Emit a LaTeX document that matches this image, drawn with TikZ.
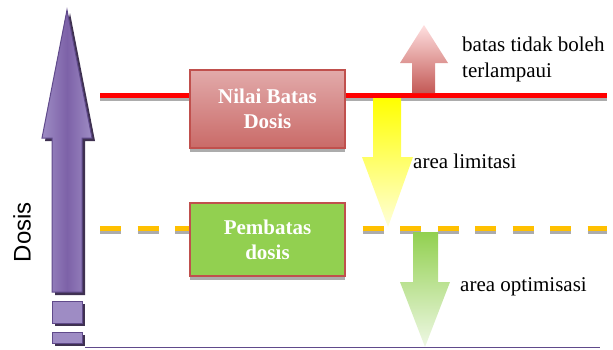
\documentclass[tikz,border=0pt]{standalone}
\usepackage{fontspec}
\setmainfont{Liberation Serif}
\newfontfamily\dosisfont{Liberation Sans}
\definecolor{purM}{RGB}{125,98,168}
\definecolor{purL}{RGB}{158,140,196}
\definecolor{purD}{RGB}{96,74,139}
\definecolor{purS}{RGB}{63,49,81}
\definecolor{redT}{RGB}{226,170,170}
\definecolor{redB}{RGB}{192,80,77}
\definecolor{grnF}{RGB}{146,208,80}
\definecolor{orng}{RGB}{255,192,0}
\tikzset{
  shadowline/.style={gray!65, line width=3pt},
  boxtext/.style={text=white, font=\bfseries\fontsize{21}{25}\selectfont, align=center, inner sep=0pt},
  redbox/.style={draw=redB, line width=1.2pt, top color=redT, bottom color=redB!85, minimum width=155pt, minimum height=78pt},
  greenbox/.style={draw=redB, line width=1.2pt, fill=grnF, minimum width=155pt, minimum height=73pt},
  lbl/.style={font=\fontsize{21}{26}\selectfont, align=left, anchor=west, inner sep=0pt, text=black},
  purblock/.style={draw=purD, line width=1pt, fill=purL},
}
\begin{document}
\begin{tikzpicture}[x=1pt,y=-1pt]
\useasboundingbox (0,0) rectangle (613,349);
% big purple arrow shadow
\fill[purS] (55,295) -- (55,141) -- (45,141) -- (70,13) -- (95,141) -- (85,141) -- (85,295) -- cycle;
\path[draw=purD, line width=1pt, left color=purL, right color=purL, middle color=purM]
  (52,292) -- (52,138) -- (42,138) -- (67,10) -- (92,138) -- (82,138) -- (82,292) -- cycle;
% small blocks
\fill[purS] (55,304) rectangle (85,326);
\draw[purblock] (52,301) rectangle (82,323);
\fill[purS] (55,335) rectangle (85,346);
\draw[purblock] (52,332) rectangle (82,343);
% Dosis label
\node[rotate=90, font=\dosisfont\fontsize{24}{24}\selectfont, inner sep=0pt] (dosis) at (22,232) {Dosis};
% bottom line
\coordinate (bl) at (85,347.5);
\coordinate (br) at (600,347.5);
\draw[purD, line width=1.5pt] (bl) -- (br);
% red limit line
\coordinate (rl) at (100,95.5);
\coordinate (rr) at (607,95.5);
\draw[shadowline] ([yshift=-4pt]rl) -- ([yshift=-4pt]rr);
\draw[red, line width=5pt] (rl) -- (rr);
% dashed orange line
\coordinate (ol) at (100,228.5);
\coordinate (or) at (607,228.5);
\draw[shadowline, dash pattern=on 21pt off 16.5pt] ([yshift=-4pt]ol) -- ([yshift=-4pt]or);
\draw[orng, line width=5pt, dash pattern=on 21pt off 16.5pt] (ol) -- (or);
% boxes
\draw[shadowline] (190,150) -- (345,150);
\node[redbox] (nbd) at (267.5,109) {};
\node[boxtext] at (nbd) {Nilai Batas\\Dosis};
\draw[shadowline] (190,278) -- (345,278);
\node[greenbox] (pd) at (267.5,239.5) {};
\node[boxtext] at (pd) {Pembatas\\dosis};
% red arrow up
\path[top color=red!12, bottom color=redB!95]
  (412,93) -- (412,63) -- (400,63) -- (424,25) -- (448,63) -- (435,63) -- (435,93) -- cycle;
% yellow arrow down
\path[top color=yellow, bottom color=yellow!15]
  (373,98) -- (373,157) -- (362,157) -- (388,227) -- (413,157) -- (401,157) -- (401,98) -- cycle;
% green arrow down
\path[top color=grnF, bottom color=grnF!15]
  (413,232) -- (413,282) -- (400,282) -- (425,347) -- (450,282) -- (438,282) -- (438,232) -- cycle;
% labels
\node[lbl] (lb1) at (462,59.5) {batas tidak boleh\\terlampaui};
\node[lbl] (lb2) at (413,161) {area limitasi};
\node[lbl] (lb3) at (460,287) {area optimisasi};
\end{tikzpicture}
\end{document}
